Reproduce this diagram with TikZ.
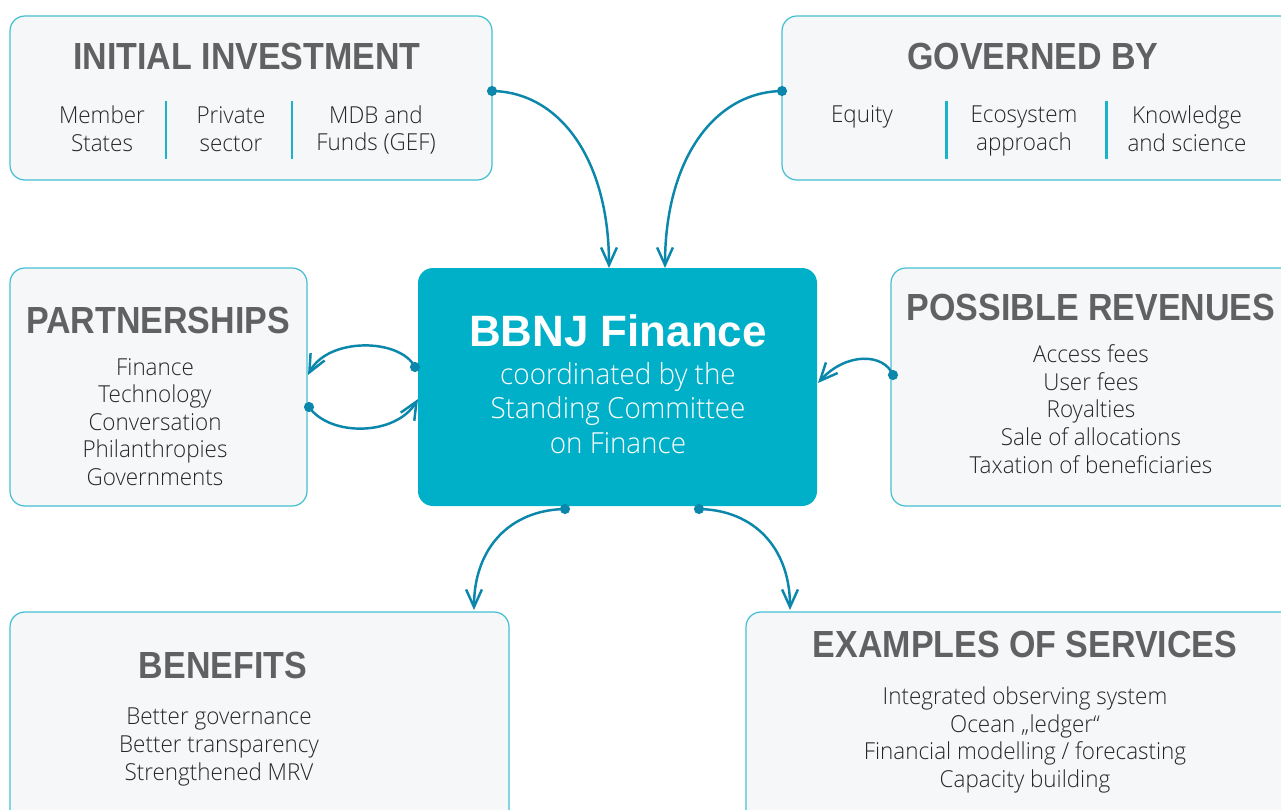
\documentclass[tikz,border=0pt]{standalone}
\usepackage{fontspec}
\usetikzlibrary{arrows.meta,fit}
\IfFontExistsTF{Open Sans Light}
  {\newfontfamily\bodyf{Open Sans Light}[FakeStretch=0.96]}
  {\newfontfamily\bodyf{Open Sans}[FakeStretch=0.96]}
\newfontfamily\headf{Liberation Sans}[FakeStretch=0.9]
\newfontfamily\hubf{Liberation Sans}
\definecolor{boxfill}{HTML}{F6F7F9}
\definecolor{boxline}{HTML}{45BFD4}
\definecolor{hubfill}{HTML}{00B0C8}
\definecolor{linkcol}{HTML}{0A87AA}
\definecolor{sepcol}{HTML}{1AB3C9}
\definecolor{headgray}{HTML}{606163}
\definecolor{bodytext}{HTML}{262626}
\tikzset{
  box/.style={draw=boxline, fill=boxfill, line width=0.7pt, rounded corners=8.5pt, inner sep=0pt},
  hub/.style={fill=hubfill, rounded corners=8.5pt, inner sep=0pt},
  head/.style={text=headgray, font=\headf\bfseries\fontsize{21.5}{24}\selectfont, inner sep=0pt},
  body/.style={text=bodytext, font=\bodyf\fontsize{13.3}{15.8}\selectfont, align=center, inner sep=0pt},
  list/.style={body, font=\bodyf\fontsize{13.3}{15.7}\selectfont},
  link/.style={draw=linkcol, line width=1.4pt, -{Straight Barb[length=10pt,width=9pt]}},
  dot/.style={fill=linkcol},
  sep/.style={draw=sepcol, line width=1.7pt}
}
\begin{document}
\begin{tikzpicture}[x=0.02cm,y=-0.02cm]
\path[use as bounding box] (0,0) rectangle (1281,809);
\clip (0,0) rectangle (1281,809);
\fill[white] (0,0) rectangle (1281,809);

% outer boxes
\node[box, fit={(10,16) (492,180)}] (inv) {};
\node[box, fit={(782,16) (1300,180)}] (gov) {};
\node[box, fit={(10,268) (307,506)}] (part) {};
\node[box, fit={(891,268) (1300,506)}] (rev) {};
\node[box, fit={(10,612) (509,830)}] (ben) {};
\node[box, fit={(746,612) (1300,830)}] (serv) {};
\node[hub, fit={(418,268) (817,506)}] (hub) {};

% initial investment
\node[head] (invh) at (247,56) {INITIAL INVESTMENT};
\node[body] (inv1) at (102,129) {Member\\States};
\node[body] (inv2) at (231,129) {Private\\sector};
\node[body] (inv3) at (376,130) {MDB and\\Funds (GEF)};
\draw[sep] (166,101) -- (166,159);
\draw[sep] (292,101) -- (292,159);

% governed by
\node[head] (govh) at (1033,56) {GOVERNED BY};
\node[body] (gov1) at (862,117) {Equity};
\node[body] (gov2) at (1024,131) {Ecosystem\\approach};
\node[body] (gov3) at (1187,129) {Knowledge\\and science};
\draw[sep] (946,101) -- (946,159);
\draw[sep] (1106,101) -- (1106,159);

% partnerships
\node[head] (parth) at (158,320) {PARTNERSHIPS};
\node[list] (partl) at (155,422) {Finance\\Technology\\Conversation\\Philanthropies\\Governments};

% possible revenues
\node[head] (revh) at (1091,307) {POSSIBLE REVENUES};
\node[list] (revl) at (1091,409) {Access fees\\User fees\\Royalties\\Sale of allocations\\Taxation of beneficiaries};

% benefits
\node[head] (benh) at (223,665) {BENEFITS};
\node[list] (benl) at (219,747) {Better governance\\Better transparency\\Strengthened MRV};

% examples of services
\node[head] (servh) at (1025,644) {EXAMPLES OF SERVICES};
\node[list] (servl) at (1025,740) {Integrated observing system\\Ocean „ledger“\\Financial modelling / forecasting\\Capacity building};

% hub
\node[text=white, font=\hubf\bfseries\fontsize{25}{28}\selectfont, inner sep=0pt] (hubh) at (618,331) {BBNJ Finance};
\node[text=white, font=\bodyf\fontsize{16.5}{19.8}\selectfont, align=center, inner sep=0pt] (hubl) at (618,408) {coordinated by the\\Standing Committee\\on Finance};

% connector end points
\coordinate (a1) at (492,91);   \coordinate (a2) at (609,268);
\coordinate (b1) at (782,91);   \coordinate (b2) at (665,268);
\coordinate (c1) at (415,367);  \coordinate (c2) at (308,375);
\coordinate (d1) at (309,407);  \coordinate (d2) at (418,399);
\coordinate (e1) at (893,375);  \coordinate (e2) at (818,383);
\coordinate (f1) at (565,509);  \coordinate (f2) at (474,610);
\coordinate (g1) at (699,509);  \coordinate (g2) at (790,610);

% connectors
\draw[link] (a1) .. controls (560,92) and (609,160) .. (a2);
\draw[link] (b1) .. controls (714,92) and (665,160) .. (b2);
\draw[link] (c1) .. controls (400,338) and (328,337) .. (c2);
\draw[link] (d1) .. controls (330,437) and (396,436) .. (d2);
\draw[link] (e1) .. controls (884,353) and (846,352) .. (e2);
\draw[link] (f1) .. controls (510,510) and (474,548) .. (f2);
\draw[link] (g1) .. controls (754,510) and (790,548) .. (g2);

\foreach \p in {a1,b1,c1,d1,e1,f1,g1} \fill[dot] (\p) circle[radius=2.9pt];
\end{tikzpicture}
\end{document}
